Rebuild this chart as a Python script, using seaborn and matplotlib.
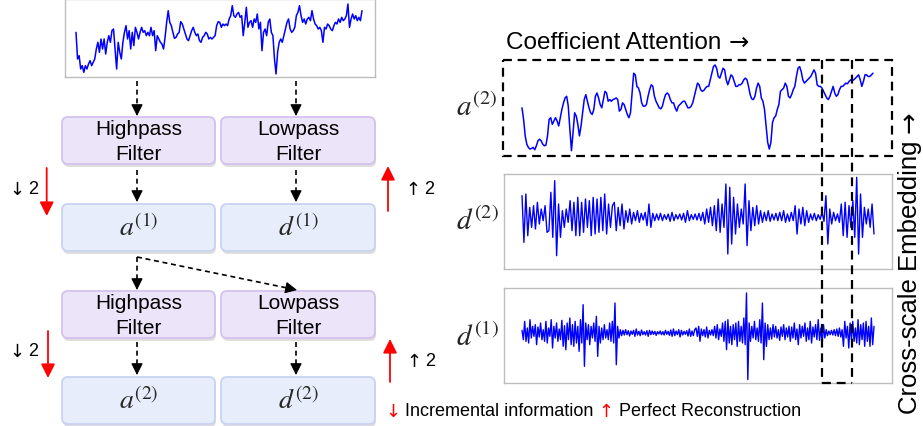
import numpy as np
import pandas as pd
import matplotlib
matplotlib.use('Agg')
import matplotlib.pyplot as plt
import seaborn as sns
from matplotlib.patches import FancyBboxPatch, Rectangle

# ---------------- data ----------------
top_signal = [140,60,70,30,40,20,40,30,45,55,40,50,60,90,110,80,120,90,120,75,
              110,130,110,145,150,90,30,110,80,60,110,140,160,120,145,90,140,100,155,140,
              120,140,155,140,145,130,140,130,155,130,145,85,130,120,110,105,90,125,170,205,
              170,160,140,122,125,135,140,172,165,150,135,120,115,130,145,155,140,130,135,115,
              110,125,130,140,135,120,125,120,125,130,160,172,
              170,155,165,160,165,160,180,190,220,190,185,195,200,185,190,130,170,215,155,170,
              175,155,180,170,195,150,170,85,140,150,130,170,180,140,130,60,15,80,110,120,
              110,130,150,170,180,150,140,145,155,190,200,220,190,170,180,165,180,185,175,205,
              180,165,160,150,155,145,110,155,150,165,160,150,145,160,170,165,180,170,185,175,
              180,190,225,155,180,195,180,190,175,185,175,205]

a2_signal = [155,120,70,45,35,30,32,35,28,40,55,60,55,45,40,42,70,120,125,105,
             115,125,115,100,125,150,170,185,190,160,90,25,80,140,130,105,70,100,140,180,
             195,175,155,140,135,150,190,200,185,165,155,180,205,200,175,180,175,180,182,185,
             180,145,150,170,165,150,135,125,140,200,260,255,220,215,200,170,160,160,165,190,
             210,225,220,190,175,165,155,152,160,180,195,200,195,180,170,170,155,145,160,165,
             170,175,175,165,155,155,
             160,170,190,210,230,225,210,205,208,215,220,220,240,260,280,285,275,250,245,260,
             275,270,240,225,240,255,250,235,220,220,225,225,230,240,245,240,220,195,182,180,
             190,215,230,220,185,175,150,100,50,30,50,110,125,130,150,165,205,210,215,230,
             220,190,185,195,210,220,250,275,280,265,240,230,235,240,245,250,260,270,260,225,
             220,220,215,205,195,185,180,190,205,220,200,190,195,210,220,220,225,230,228,235,
             240,238,240,245,250,255,240,220,235,255,255,250,250,255,260]

d2_signal = [65,-75,70,-55,30,-30,35,-35,45,-20,25,-10,35,-45,-40,75,-60,110,-115,40,-60,
             20,-30,25,-15,50,-40,45,-55,60,-55,45,-45,55,-30,50,-55,60,-50,55,-45,60,-40,70,-50,40,-30,35,
             45,-40,30,-25,40,-35,20,-15,25,-20,15,-10,20,-15,12,-8,15,-25,40,-30,12,-10,
             10,-8,12,-10,8,-6,10,-12,15,-10,8,-5,10,-8,12,-15,20,-10,8,-6,10,-8,12,-10,15,-20,25,-15,
             30,-25,35,-40,55,-45,
             40,-30,100,-110,90,-80,60,-50,40,-30,25,-20,100,-85,50,-40,30,
             -25,35,-20,20,-15,15,-10,20,-12,10,-8,12,-10,15,-10,20,-15,10,-12,15,-10,35,-50,25,-20,30,-25,20,-15,10,-8,12,-10,8,-6,15,-12,
             65,-80,25,-20,15,-10,10,-15,40,-55,45,-60,35,-30,50,-60,120,-110,70,-60,30,-20,25,-30,40,-50]

d1_signal = [8,-20,35,-25,15,-30,40,-15,20,-10,25,-35,18,-12,30,-20,10,-25,35,-30,15,-10,40,-45,20,-15,30,-25,12,-20,38,-40,22,
             -50,30,-20,45,-35,25,-40,35,-30,20,-55,40,-30,85,-100,
             30,-20,25,-35,20,-15,30,-25,50,-70,20,-30,15,-20,25,-15,10,-20,30,-25,35,-30,90,-95,20,-15,10,-8,
             8,-6,10,-5,7,-9,6,-4,8,-10,12,-6,5,-8,9,-5,4,-6,7,-10,8,-5,6,-4,5,-7,4,-3,6,-5,4,-6,8,-4,5,-7,9,-10,12,-8,6,-5,10,-12,8,-6,5,-4,7,-9,12,-10,6,-8,10,
             15,-10,20,-25,12,-8,10,-12,18,-15,8,-6,10,-8,20,-15,25,-20,12,-10,
             30,-25,35,-50,40,-30,20,-35,25,-20,30,-40,35,-25,20,-30,45,-35,120,-140,
             30,-25,20,-15,35,-20,15,-25,40,-30,90,-80,30,-40,25,
             -20,15,-18,25,-12,20,-15,10,-22,18,-10,25,-20,15,-12,20,-25,18,-15,30,-20,12,-35,25,-15,20,-10,30,-25,15,-20,35,-30,18,-12,25,-20,40,-22,15,
             -30,25,-15,10,-8,6,-5,8,-6,10,-8,12,-10,15,-12,10,-40,35,-15,20,-45,30,-20,35,-25,15,-30,40,-35,25,-20,30,-40,35,-25,20,-40,45,-35,20]

filter_labels = ["Highpass\nFilter", "Lowpass\nFilter"]
coef_labels_1 = [r"$a^{(1)}$", r"$d^{(1)}$"]
coef_labels_2 = [r"$a^{(2)}$", r"$d^{(2)}$"]
panel_labels = [r"$a^{(2)}$", r"$d^{(2)}$", r"$d^{(1)}$"]
down_parts = [("\u2193", "black"), (" 2", "black")]
up_parts = [("\u2191", "black"), (" 2", "black")]
title_parts = [("Coefficient Attention ", "black"), ("\u2192", "black")]
side_parts = [("Cross-scale Embedding ", "black"), ("\u2192", "black")]
legend_parts = [("\u2193", "red"), (" Incremental information ", "black"),
                ("\u2191", "red"), (" Perfect Reconstruction", "black")]

# ---------------- style ----------------
sns.set_style('white')
plt.rcParams['font.family'] = ['Liberation Sans', 'DejaVu Sans']
plt.rcParams['mathtext.fontset'] = 'stix'
ARROWS = set("\u2190\u2191\u2192\u2193")

W, H = 923, 427
fig = plt.figure(figsize=(W / 100, H / 100), dpi=100)
ax = fig.add_axes([0, 0, 1, 1])
ax.set_xlim(0, W)
ax.set_ylim(H, 0)
ax.axis('off')

BLUE = '#0000ff'


def fam(s):
    return ['DejaVu Sans'] if s.strip() in ARROWS else ['Liberation Sans', 'DejaVu Sans']


def chain_text(x, y, parts, fontsize, rotation=0):
    prev = None
    for txt, col in parts:
        if prev is None:
            if rotation == 0:
                prev = ax.text(x, y, txt, color=col, ha='left', va='center',
                               fontsize=fontsize, family=fam(txt))
            else:
                prev = ax.text(x, y, txt, color=col, ha='center', va='bottom',
                               fontsize=fontsize, family=fam(txt), rotation=90)
        else:
            if rotation == 0:
                prev = ax.annotate(txt, xy=(1, 0.5), xycoords=prev, ha='left', va='center',
                                   color=col, fontsize=fontsize, family=fam(txt))
            else:
                prev = ax.annotate(txt, xy=(0.5, 1), xycoords=prev, ha='center', va='bottom',
                                   color=col, fontsize=fontsize, family=fam(txt), rotation=90)
    return prev


def px_axes(x0, y0, x1, y1):
    a = fig.add_axes([x0 / W, 1 - y1 / H, (x1 - x0) / W, (y1 - y0) / H])
    a.set_facecolor('none')
    a.set_xticks([])
    a.set_yticks([])
    return a


def draw_signal(a, values, box, sig, ylim, lw=1.1):
    n = len(values)
    x0, x1 = box
    s0, s1 = sig
    rng = (n - 1) * (x1 - x0) / (s1 - s0)
    xmin = -(s0 - x0) / (x1 - x0) * rng
    df = pd.DataFrame({'t': np.arange(n), 'v': values})
    sns.lineplot(data=df, x='t', y='v', ax=a, color=BLUE, lw=lw)
    a.set_xlim(xmin, xmin + rng)
    a.set_ylim(*ylim)
    a.set_xlabel('')
    a.set_ylabel('')


def gray_spines(a, color='#bdbdbd', lw=1.0):
    for s in a.spines.values():
        s.set_visible(True)
        s.set_color(color)
        s.set_linewidth(lw)


def rbox(x0, y0, x1, y1, fc, ec):
    ax.add_patch(FancyBboxPatch((x0 + 1, y0 + 3), x1 - x0, y1 - y0,
                                boxstyle='round,pad=0,rounding_size=6',
                                fc='#000000', ec='none', alpha=0.13, zorder=1))
    ax.add_patch(FancyBboxPatch((x0, y0), x1 - x0, y1 - y0,
                                boxstyle='round,pad=0,rounding_size=6',
                                fc=fc, ec=ec, lw=1.3, zorder=2))


def dash_arrow(x0, y0, x1, y1):
    L = np.hypot(x1 - x0, y1 - y0)
    ux, uy = (x1 - x0) / L, (y1 - y0) / L
    hl = 8
    ax.plot([x0, x1 - ux * hl], [y0, y1 - uy * hl], color='k', lw=1.2,
            ls=(0, (3, 2.2)), zorder=3)
    ax.annotate('', xy=(x1, y1), xytext=(x1 - ux * (hl + 1), y1 - uy * (hl + 1)),
                arrowprops=dict(arrowstyle='-|>,head_width=0.3,head_length=0.6',
                                color='k', lw=0.8, mutation_scale=12,
                                shrinkA=0, shrinkB=0), zorder=3)


def red_arrow(x, y0, y1):
    ax.annotate('', xy=(x, y1), xytext=(x, y0),
                arrowprops=dict(arrowstyle='-|>,head_width=0.35,head_length=0.7',
                                color='red', lw=1.3, mutation_scale=12,
                                shrinkA=0, shrinkB=0), zorder=3)


# ---------------- left diagram ----------------
ax_top = px_axes(65, 0, 375, 78)
draw_signal(ax_top, top_signal, (65, 375), (76, 362), (6, 240), lw=1.1)
gray_spines(ax_top)

F_FC, F_EC = '#ece5fa', '#d4c2ee'
C_FC, C_EC = '#e7edfb', '#c9d3f1'
cols = [(62, 215), (221, 375)]
rows_f = [(118, 165), (292, 339)]
rows_c = [(205, 252), (378, 425)]

for (y0, y1) in rows_f:
    for (x0, x1), lab in zip(cols, filter_labels):
        rbox(x0, y0, x1, y1, F_FC, F_EC)
        ax.text((x0 + x1) / 2, (y0 + y1) / 2 + 0.5, lab, ha='center', va='center',
                fontsize=15, linespacing=1.38, color='black', zorder=4)

for (y0, y1), labs in zip(rows_c, [coef_labels_1, coef_labels_2]):
    for (x0, x1), lab in zip(cols, labs):
        rbox(x0, y0, x1, y1, C_FC, C_EC)
        ax.text((x0 + x1) / 2, (y0 + y1) / 2, lab, ha='center', va='center',
                fontsize=20, zorder=4)

for cx in (137, 296):
    dash_arrow(cx, 82, cx, 117)
    dash_arrow(cx, 171, cx, 203)
    dash_arrow(cx, 343, cx, 376)
dash_arrow(137, 258, 137, 291)
dash_arrow(137, 258, 297, 291)

red_arrow(46.7, 169, 217)
red_arrow(388, 212, 167)
red_arrow(48, 332, 379)
red_arrow(390, 383, 340)

for y in (190, 352):
    chain_text(9, y, down_parts, 13)
chain_text(405, 190, up_parts, 13)
chain_text(406, 362, up_parts, 13)

# bottom legend line
chain_text(385, 412, legend_parts, 13)

# ---------------- right panels ----------------
ax_a2 = px_axes(503, 61, 892, 157)
draw_signal(ax_a2, a2_signal, (503, 892), (522, 873), (9, 300), lw=1.1)
for s in ax_a2.spines.values():
    s.set_visible(False)

ax_d2 = px_axes(504, 175, 892, 270)
draw_signal(ax_d2, d2_signal, (504, 892), (522, 874), (-155, 130), lw=1.0)
gray_spines(ax_d2)

ax_d1 = px_axes(504, 289, 892, 384)
draw_signal(ax_d1, d1_signal, (504, 892), (522, 874), (-150, 135), lw=1.0)
gray_spines(ax_d1)

for lab, y in zip(panel_labels, (108, 222, 338)):
    ax.text(477, y, lab, ha='center', va='center', fontsize=21)

chain_text(506, 43, title_parts, 17.5)
chain_text(910, 414, side_parts, 18.5, rotation=90)

# overlay dashed structures
ov = fig.add_axes([0, 0, 1, 1])
ov.set_xlim(0, W)
ov.set_ylim(H, 0)
ov.axis('off')
ov.set_facecolor('none')
DASH = (0, (4, 2.6))
ov.add_patch(Rectangle((503, 61), 389, 96, fill=False, ec='k', lw=1.6, ls=DASH))
for xv in (821.7, 851.7):
    ov.plot([xv, xv], [61, 384], color='k', lw=1.6, ls=DASH)
ov.plot([821.7, 851.7], [384, 384], color='k', lw=1.6, ls=DASH)

fig.savefig('out.png', dpi=100)
